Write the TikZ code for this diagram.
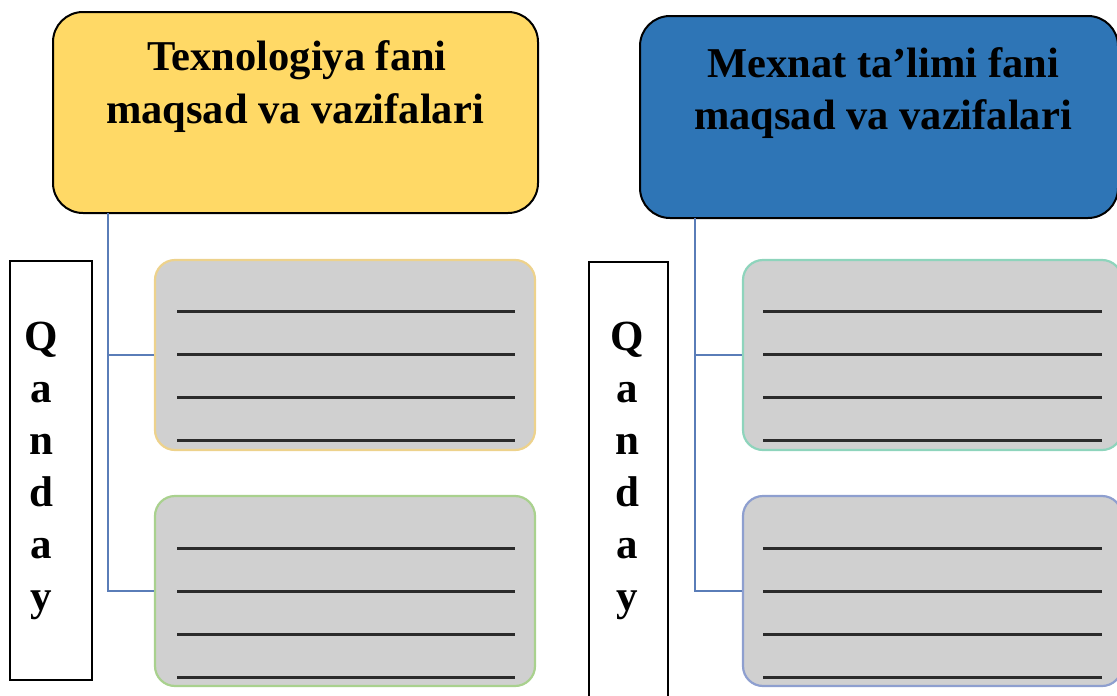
\documentclass[tikz,border=0pt]{standalone}
\usepackage{fontspec}
\setmainfont{Liberation Serif}
\definecolor{titleyellow}{HTML}{FFD966}
\definecolor{titleblue}{HTML}{2E75B6}
\definecolor{boxgray}{HTML}{D0D0D0}
\definecolor{edgegold}{HTML}{EDD28C}
\definecolor{edgegreen}{HTML}{A9D18E}
\definecolor{edgeteal}{HTML}{8ED4BC}
\definecolor{edgeblue}{HTML}{8E9FCF}
\definecolor{connblue}{HTML}{5A7DB8}
\definecolor{ruledark}{HTML}{2B2B2B}
\tikzset{
  titlebox/.style={draw=black, line width=2pt, rounded corners=30pt, inner sep=0pt},
  titletext/.style={anchor=base, inner sep=0pt, font=\bfseries\fontsize{42.5}{50}\selectfont},
  graybox/.style={fill=boxgray, line width=2.2pt, rounded corners=20pt, inner sep=0pt, minimum width=380pt, minimum height=190pt},
  sidebox/.style={draw=black, line width=1.8pt, inner sep=0pt},
  sideletter/.style={anchor=base, inner sep=0pt, font=\bfseries\fontsize{43}{50}\selectfont},
  conn/.style={draw=connblue, line width=2.4pt},
  ruleline/.style={draw=ruledark, line width=3pt}
}
\begin{document}
\begin{tikzpicture}[x=1pt,y=-1pt]
\useasboundingbox (0,0) rectangle (1117,696);
\clip (0,0) rectangle (1117,696);

% title boxes
\node[titlebox, fill=titleyellow, minimum width=485pt, minimum height=201pt] (t1) at (295.5,112.5) {};
\node[titlebox, fill=titleblue, minimum width=478pt, minimum height=202pt] (t2) at (879,117) {};
\node[titletext] (t1a) at (297,70) {Texnologiya fani};
\node[titletext] (t1b) at (295,123) {maqsad va vazifalari};
\node[titletext] (t2a) at (883,77) {Mexnat ta’limi fani};
\node[titletext] (t2b) at (883,129) {maqsad va vazifalari};

% gray boxes
\node[graybox, draw=edgegold] (g1) at (345,355) {};
\node[graybox, draw=edgegreen] (g2) at (345,591) {};
\node[graybox, draw=edgeteal, minimum width=379pt] (g3) at (932.5,355) {};
\node[graybox, draw=edgeblue, minimum width=379pt] (g4) at (932.5,591) {};

% ruled lines
\foreach \yy in {311,354,397,440,548,591,634,677} {
  \draw[ruleline] (177,\yy) -- (515,\yy);
  \draw[ruleline] (763,\yy) -- (1102,\yy);
}

% side boxes
\node[sidebox, minimum width=82pt, minimum height=419pt] (s1) at (51,470.5) {};
\node[sidebox, minimum width=79pt, minimum height=440pt] (s2) at (628.5,482) {};
\foreach \ch [count=\i] in {Q,a,n,d,a,y} {
  \node[sideletter] (l\i) at (41,298+52*\i) {\ch};
  \node[sideletter] (r\i) at (627,298+52*\i) {\ch};
}

% connectors
\coordinate (j1) at (108,213);
\coordinate (j2) at (695,218);
\draw[conn] (j1) |- (g2.west);
\draw[conn] (g1.west) -| (j1);
\draw[conn] (j2) |- (g4.west);
\draw[conn] (g3.west) -| (j2);
\end{tikzpicture}
\end{document}
